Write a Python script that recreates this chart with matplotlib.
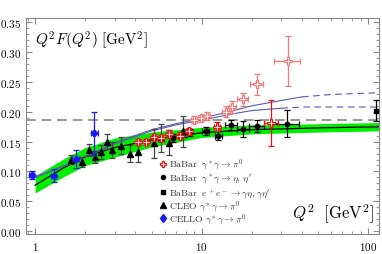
import numpy as np
import matplotlib.pyplot as plt
from matplotlib.ticker import FixedLocator, FixedFormatter, MultipleLocator, LogLocator, NullFormatter

plt.rcParams['mathtext.fontset'] = 'cm'
plt.rcParams['font.family'] = 'DejaVu Serif'

# ===== band and curves =====
q_band = [1.0, 1.5, 2.0, 3.0, 5.0, 10.0, 20.0, 50.0, 116.0]
band_lo = [0.064, 0.092, 0.110, 0.124, 0.141, 0.157, 0.163, 0.166, 0.168]
band_mid = [0.077, 0.107, 0.125, 0.140, 0.153, 0.165, 0.170, 0.173, 0.175]
band_hi = [0.093, 0.122, 0.140, 0.156, 0.166, 0.174, 0.178, 0.180, 0.182]

q_blue = [1.0, 1.5, 2.0, 3.0, 5.0, 7.0, 10.0, 15.0, 20.0, 30.0, 40.0, 60.0, 116.0]
blue_up = [0.091, 0.110, 0.125, 0.148, 0.170, 0.180, 0.189, 0.201, 0.210, 0.219, 0.225, 0.229, 0.232]
blue_lo = [0.090, 0.109, 0.124, 0.146, 0.168, 0.178, 0.186, 0.196, 0.202, 0.206, 0.208, 0.208, 0.208]
asym_line = 0.186

# ===== data =====
# BaBar pi0
bb_q = [4.17, 4.64, 5.14, 5.68, 6.35, 7.36, 8.33, 12.3, 26.1]
bb_f = [0.150, 0.149, 0.157, 0.156, 0.163, 0.160, 0.167, 0.175, 0.181]
bb_err = [0.005, 0.005, 0.005, 0.005, 0.006, 0.006, 0.006, 0.008, 0.038]
bb_xerr = [0.1, 0.1, 0.1, 0.1, 0.2, 0.2, 0.3, 0.5, 2.5]
# BaBar pi0, faded points
bl_q = [9.0, 9.9, 10.7, 13.9, 15.3, 17.6, 21.5, 33.0]
bl_f = [0.187, 0.189, 0.193, 0.200, 0.208, 0.221, 0.246, 0.285]
bl_err = [0.006, 0.006, 0.007, 0.009, 0.010, 0.011, 0.018, 0.042]
bl_xerr = [0.4, 0.4, 0.5, 0.7, 0.8, 1.3, 2.0, 6.0]
# BaBar eta, eta'
be_q = [6.7, 7.8, 8.5, 10.6, 12.6, 15.0, 17.8, 21.4, 32.6]
be_f = [0.156, 0.164, 0.166, 0.168, 0.160, 0.178, 0.171, 0.176, 0.180]
be_err = [0.006, 0.006, 0.006, 0.007, 0.008, 0.008, 0.013, 0.010, 0.023]
be_xerr = [0.0, 0.0, 0.0, 0.5, 0.6, 1.2, 1.5, 2.3, 6.0]
# BaBar e+e- (timelike)
ee_q = [112.0]
ee_f = [0.202]
ee_err = [0.017]
# CLEO
cl_q = [1.63, 1.90, 2.09, 2.29, 2.49, 2.68, 2.91, 3.27, 3.72, 4.17, 5.2, 5.7, 6.37, 7.7]
cl_f = [0.120, 0.116, 0.136, 0.125, 0.133, 0.150, 0.136, 0.143, 0.130, 0.132, 0.147, 0.156, 0.148, 0.167]
cl_err = [0.008, 0.008, 0.010, 0.010, 0.012, 0.012, 0.013, 0.014, 0.014, 0.016, 0.025, 0.023, 0.021, 0.026]
# CELLO
ce_q = [0.95, 1.29, 1.75, 2.27]
ce_f = [0.094, 0.093, 0.121, 0.164]
ce_err = [0.007, 0.011, 0.015, 0.036]
ce_xerr = [0.03, 0.04, 0.08, 0.12]

legend_labels = [
    r'$\mathrm{BaBar}\ \ \gamma^*\gamma\rightarrow\pi^0$',
    r"$\mathrm{BaBar}\ \ \gamma^*\gamma\rightarrow\eta,\,\eta'$",
    r"$\mathrm{BaBar}\ \ e^+e^-\rightarrow\gamma\eta,\gamma\eta'$",
    r'$\mathrm{CLEO}\ \gamma^*\gamma\rightarrow\pi^0$',
    r'$\mathrm{CELLO}\ \gamma^*\gamma\rightarrow\pi^0$',
]

fig = plt.figure(figsize=(3.82, 2.55), dpi=100)
ax = fig.add_axes([0.068, 0.078, 0.924, 0.847])

ax.fill_between(q_band, band_lo, band_hi, color='#00ee00', lw=0, zorder=1)
ax.plot(q_band, band_mid, color='black', lw=0.9, zorder=2)
ax.axhline(asym_line, color='#999999', lw=1.4, ls=(0, (5, 3)), zorder=2)

blue_c = '#5a5ab0'
ax.plot(q_blue[:11], blue_up[:11], color=blue_c, lw=0.8, zorder=2)
ax.plot(q_blue[10:], blue_up[10:], color=blue_c, lw=0.8, ls=(0, (6, 4)), zorder=2)
ax.plot(q_blue[:10], blue_lo[:10], color=blue_c, lw=0.8, zorder=2)
ax.plot(q_blue[9:], blue_lo[9:], color=blue_c, lw=0.8, ls=(0, (6, 4)), zorder=2)

eb = dict(capsize=2.2, elinewidth=0.9, capthick=0.9, linestyle='none')
ax.errorbar(cl_q, cl_f, yerr=cl_err, color='black', ecolor='#444444', marker='^', ms=5, zorder=3, **eb)
ax.errorbar(be_q, be_f, yerr=be_err, xerr=be_xerr, color='black', marker='o', ms=3.2, zorder=4, **eb)
ax.errorbar(ee_q, ee_f, yerr=ee_err, color='black', marker='s', ms=3.5, zorder=4, **eb)
ax.errorbar(bl_q, bl_f, yerr=bl_err, xerr=bl_xerr, color='#f47a7a', marker='P', ms=5.5,
            mfc='white', mec='#f47a7a', mew=0.9, zorder=5, **eb)
ax.errorbar(bb_q, bb_f, yerr=bb_err, xerr=bb_xerr, color='#ee1111', marker='P', ms=5.5,
            mfc='white', mec='#ee1111', mew=0.9, zorder=6, **eb)
ax.errorbar(ce_q, ce_f, yerr=ce_err, xerr=ce_xerr, color='#1a1aee', marker='D', ms=3.5, zorder=6, **eb)

ax.set_xscale('log')
ax.set_xlim(0.88, 116)
ax.set_ylim(-0.005, 0.357)

ax.xaxis.set_major_locator(FixedLocator([1, 10, 100]))
ax.xaxis.set_major_formatter(FixedFormatter([r'$\mathrm{1}$', r'$\mathrm{10}$', r'$\mathrm{100}$']))
ax.xaxis.set_minor_locator(LogLocator(base=10, subs=np.arange(2, 10), numticks=10))
ax.xaxis.set_minor_formatter(NullFormatter())
yt = [0.0, 0.05, 0.10, 0.15, 0.20, 0.25, 0.30, 0.35]
ax.yaxis.set_major_locator(FixedLocator(yt))
ax.yaxis.set_major_formatter(FixedFormatter([r'$\mathrm{%.2f}$' % v for v in yt]))
ax.yaxis.set_minor_locator(MultipleLocator(0.01))

ax.tick_params(which='both', direction='in', top=True, right=True, color='#888888', labelsize=8)
ax.tick_params(which='major', length=4, width=0.8)
ax.tick_params(which='minor', length=2, width=0.6)
ax.tick_params(axis='x', pad=4)
for s in ax.spines.values():
    s.set_color('#888888')
    s.set_linewidth(0.8)

ax.text(0.025, 0.95, r'$Q^2F(Q^2)\ [\mathrm{GeV}^2]$', transform=ax.transAxes,
        fontsize=11, va='top', ha='left')
ax.text(0.985, 0.04, r'$Q^2\ \ [\mathrm{GeV}^2]$', transform=ax.transAxes,
        fontsize=12, va='bottom', ha='right')

# hand-placed legend
leg_styles = [
    dict(color='#ee1111', marker='P', ms=5, mfc='white', mew=0.9),
    dict(color='black', marker='o', ms=3),
    dict(color='black', marker='s', ms=3.2),
    dict(color='black', marker='^', ms=4.5),
    dict(color='#1a1aee', marker='d', ms=4.5),
]
leg_rows = [0.326, 0.266, 0.195, 0.134, 0.074]
for sty, lab, ry in zip(leg_styles, legend_labels, leg_rows):
    ax.plot([0.387], [ry], transform=ax.transAxes, ls='none', clip_on=False, zorder=7, **sty)
    ax.text(0.404, ry - 0.015, lab, transform=ax.transAxes, fontsize=7.0,
            color='#333333', va='baseline', ha='left', zorder=7)

fig.savefig('out.png', dpi=100)
